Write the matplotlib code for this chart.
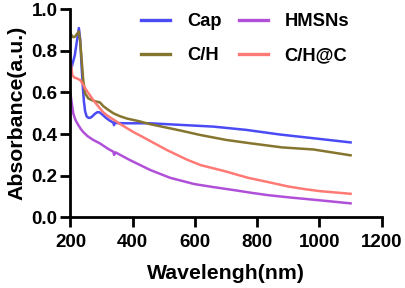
import matplotlib
matplotlib.use('Agg')
import matplotlib.pyplot as plt

plt.rcParams['font.family'] = ['Liberation Sans', 'DejaVu Sans']
plt.rcParams['font.weight'] = 'bold'

# data (wavelength nm, absorbance a.u.)
cap_wl = [200, 207, 214, 220, 227, 231, 236, 240, 243, 247, 252, 258, 263, 270, 278, 286, 293,
          300, 308, 316, 325, 333, 338, 340, 342, 350, 380, 455, 557, 659, 766, 873, 981, 1100]
cap_abs = [0.70, 0.74, 0.78, 0.84, 0.91, 0.86, 0.72, 0.62, 0.56, 0.51, 0.485, 0.478, 0.478, 0.485, 0.497, 0.505, 0.505,
           0.497, 0.486, 0.476, 0.466, 0.459, 0.455, 0.443, 0.455, 0.453, 0.452, 0.452, 0.444, 0.436, 0.42, 0.398, 0.38, 0.36]

ch_wl = [200, 205, 209, 214, 220, 227, 231, 236, 241, 247, 257, 270, 284, 295, 305, 320, 338,
         359, 381, 420, 455, 557, 616, 700, 777, 880, 981, 1100]
ch_abs = [0.885, 0.872, 0.866, 0.868, 0.88, 0.893, 0.85, 0.756, 0.66, 0.596, 0.572, 0.562, 0.556, 0.552, 0.535, 0.518, 0.50,
          0.486, 0.475, 0.462, 0.448, 0.416, 0.396, 0.372, 0.356, 0.336, 0.326, 0.298]

hm_wl = [200, 203, 205, 209, 213, 217, 225, 233, 241, 255, 273, 295, 320, 338, 340, 345, 391,
         457, 520, 597, 660, 724, 780, 832, 900, 992, 1100]
hm_abs = [0.596, 0.56, 0.54, 0.50, 0.48, 0.465, 0.444, 0.425, 0.41, 0.39, 0.372, 0.355, 0.33, 0.315, 0.30, 0.312, 0.275,
          0.227, 0.19, 0.16, 0.145, 0.131, 0.118, 0.107, 0.096, 0.083, 0.067]

chc_wl = [200, 203, 206, 212, 220, 231, 240, 247, 260, 273, 290, 305, 320, 340, 360, 380, 402, 430,
          457, 509, 573, 618, 700, 770, 833, 900, 950, 1000, 1100]
chc_abs = [0.756, 0.72, 0.684, 0.672, 0.668, 0.66, 0.64, 0.62, 0.592, 0.564, 0.532, 0.505, 0.487, 0.468, 0.448, 0.43, 0.41, 0.388,
           0.366, 0.324, 0.278, 0.251, 0.22, 0.19, 0.17, 0.148, 0.136, 0.126, 0.113]

x_ticks = [200, 400, 600, 800, 1000, 1200]
y_ticks = [0.0, 0.2, 0.4, 0.6, 0.8, 1.0]

fig = plt.figure(figsize=(4.05, 2.88), dpi=100)
ax = fig.add_axes([0.174, 0.2455, 0.7685, 0.7222])

ax.plot(cap_wl, cap_abs, color='#4B4BF5', lw=1.8, label='Cap')
ax.plot(ch_wl, ch_abs, color='#85752F', lw=1.8, label='C/H')
ax.plot(hm_wl, hm_abs, color='#B050D8', lw=1.8, label='HMSNs')
ax.plot(chc_wl, chc_abs, color='#FF7A74', lw=1.8, label='C/H@C')

ax.set_xlim(200, 1200)
ax.set_ylim(0, 1.0)
ax.set_xticks(x_ticks)
ax.set_yticks(y_ticks)
ax.set_yticklabels([f'{v:.1f}' for v in y_ticks])
ax.tick_params(direction='out', length=7.2, width=2, labelsize=13.5)
ax.tick_params(axis='x', pad=5)
ax.tick_params(axis='y', pad=2)
for s in ['top', 'right']:
    ax.spines[s].set_visible(False)
for s in ['left', 'bottom']:
    ax.spines[s].set_linewidth(2)

ax.set_xlabel('Wavelengh(nm)', fontsize=15.3, fontweight='bold', labelpad=9)
ax.set_ylabel('Absorbance(a.u.)', fontsize=15.3, fontweight='bold', labelpad=4)

leg = ax.legend(ncol=2, frameon=False, fontsize=13.2, handlelength=1.6, handletextpad=0.9,
                columnspacing=0.95, labelspacing=0.95, borderpad=0, borderaxespad=0,
                loc='upper left', bbox_to_anchor=(141 / 405, 1 - 13 / 288),
                bbox_transform=fig.transFigure)
for h in leg.get_lines():
    h.set_linewidth(2.4)

fig.savefig('out.png', dpi=100)
